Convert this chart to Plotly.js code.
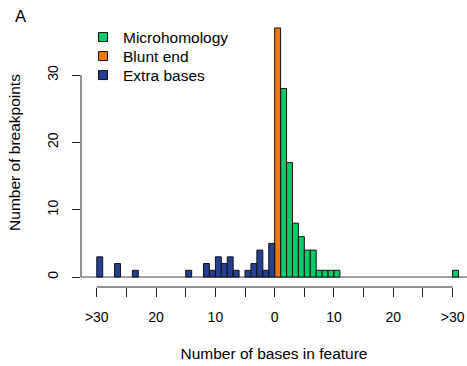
<!DOCTYPE html>
<html>
<head>
<meta charset="utf-8">
<script src="https://cdn.plot.ly/plotly-3.0.1.min.js"></script>
<style>
  html, body { margin: 0; padding: 0; background: #fff; }
  #chart { width: 467px; height: 366px; }
</style>
</head>
<body>
<div id="chart"></div>
<script>
// Breakpoint features: each bin is keyed by a signed position on the axis.
// Microhomology lengths run to the right of 0, extra (inserted) bases to the left.
// The last bin on each side (30) collects everything longer than 30 bases.
const microPos    = [1, 2, 3, 4, 5, 6, 7, 8, 9, 10, 30];
const microCount  = [28, 17, 8, 6, 4, 4, 1, 1, 1, 1, 1];

const bluntPos    = [0];
const bluntCount  = [37];

const extraBases  = [30, 27, 24, 15, 12, 11, 10, 9, 8, 7, 5, 4, 3, 2, 1];
const extraCount  = [3, 2, 1, 1, 2, 1, 3, 2, 3, 1, 1, 2, 4, 1, 5];

const tickVals  = [-30, -25, -20, -15, -10, -5, 0, 5, 10, 15, 20, 25, 30];
const tickText  = ['>30', '', '20', '', '10', '', '0', '', '10', '', '20', '', '>30'];
const yTickVals = [0, 10, 20, 30];

const seriesNames = ['Microhomology', 'Blunt end', 'Extra bases'];
const colors = { micro: '#05CC69', blunt: '#EE7700', extra: '#243F93' };

const FONT = 'Liberation Sans, Arial, Helvetica, sans-serif';
const INK = '#000000';

// page and plot-area geometry (pixels)
const W = 467, H = 366;
const M = { l: 81, r: 0, t: 18, b: 79 };
const PW = W - M.l - M.r, PH = H - M.t - M.b;

// extra bases are drawn on the negative side: n bases -> bin starting at -n
const extraPos = extraBases.map(n => -n);

function barTrace(x, y, color) {
  return {
    type: 'bar', x: x, y: y,
    offset: 0, width: 1,
    marker: { color: color, line: { color: '#111', width: 1 } },
    showlegend: false, hoverinfo: 'x+y'
  };
}

// legend-only entries with small square keys, one legend box per row
function keyTrace(name, color, legendId) {
  return {
    type: 'scatter', mode: 'markers', x: [null], y: [null], name: name,
    legend: legendId,
    marker: { symbol: 'square', size: 9, color: color, line: { color: '#111', width: 1 } },
    hoverinfo: 'skip'
  };
}

const data = [
  barTrace(microPos, microCount, colors.micro),
  barTrace(bluntPos, bluntCount, colors.blunt),
  barTrace(extraPos, extraCount, colors.extra),
  keyTrace(seriesNames[0], colors.micro, 'legend'),
  keyTrace(seriesNames[1], colors.blunt, 'legend2'),
  keyTrace(seriesNames[2], colors.extra, 'legend3')
];

// legend row centred at a given pixel height, text starting near x = 123 px
function legendBox(yPx) {
  return {
    x: (83 - M.l) / PW, xanchor: 'left',
    y: (H - M.b - yPx) / PH, yanchor: 'middle',
    bgcolor: 'rgba(0,0,0,0)', borderwidth: 0,
    font: { family: FONT, size: 15.5, color: INK }
  };
}

const layout = {
  width: W, height: H,
  margin: M,
  paper_bgcolor: '#fff', plot_bgcolor: '#fff',
  barmode: 'overlay',
  font: { family: FONT, color: INK, size: 15.5 },
  xaxis: {
    range: [-32.66, 32.43],
    showgrid: false, zeroline: false, showline: false,
    tickmode: 'array', tickvals: tickVals, ticktext: tickText,
    ticks: 'outside', ticklen: 9, tickwidth: 1, tickcolor: '#222',
    tickfont: { family: FONT, size: 14, color: INK },
    ticklabelstandoff: 8,
    title: { text: 'Number of bases in feature', font: { family: FONT, size: 15.5, color: INK }, standoff: 24 },
    fixedrange: true
  },
  yaxis: {
    range: [-1.48, 38.48],
    showgrid: false, zeroline: false, showline: false,
    tickmode: 'array', tickvals: yTickVals,
    ticks: 'outside', ticklen: 8, tickwidth: 1, tickcolor: '#222',
    tickangle: -90,
    tickfont: { family: FONT, size: 14, color: INK },
    ticklabelstandoff: 8,
    title: { text: 'Number of breakpoints', font: { family: FONT, size: 15.5, color: INK }, standoff: 20 },
    fixedrange: true
  },
  legend: legendBox(37.5),
  legend2: legendBox(56.5),
  legend3: legendBox(75.5),
  shapes: [
    // zero baseline under the bins
    { type: 'line', xref: 'paper', yref: 'y', x0: 0, x1: 1, y0: 0, y1: 0,
      line: { color: '#444', width: 1 }, layer: 'below' },
    // x axis line spanning the labelled ticks
    { type: 'line', xref: 'x', yref: 'paper', x0: tickVals[0], x1: tickVals[tickVals.length - 1], y0: 0, y1: 0,
      line: { color: '#222', width: 1 } },
    // y axis line spanning the labelled ticks
    { type: 'line', xref: 'paper', yref: 'y', x0: 0, x1: 0, y0: yTickVals[0], y1: yTickVals[yTickVals.length - 1],
      line: { color: '#222', width: 1 } }
  ],
  annotations: [
    // panel letter in the top-left corner
    { text: 'A', xref: 'paper', yref: 'paper', x: (20 - M.l) / PW, y: 1 + (M.t - 16) / PH,
      xanchor: 'center', yanchor: 'middle',
      showarrow: false, font: { family: FONT, size: 16.5, color: INK } }
  ]
};

Plotly.newPlot('chart', data, layout, { displayModeBar: false, staticPlot: true });
</script>
</body>
</html>
